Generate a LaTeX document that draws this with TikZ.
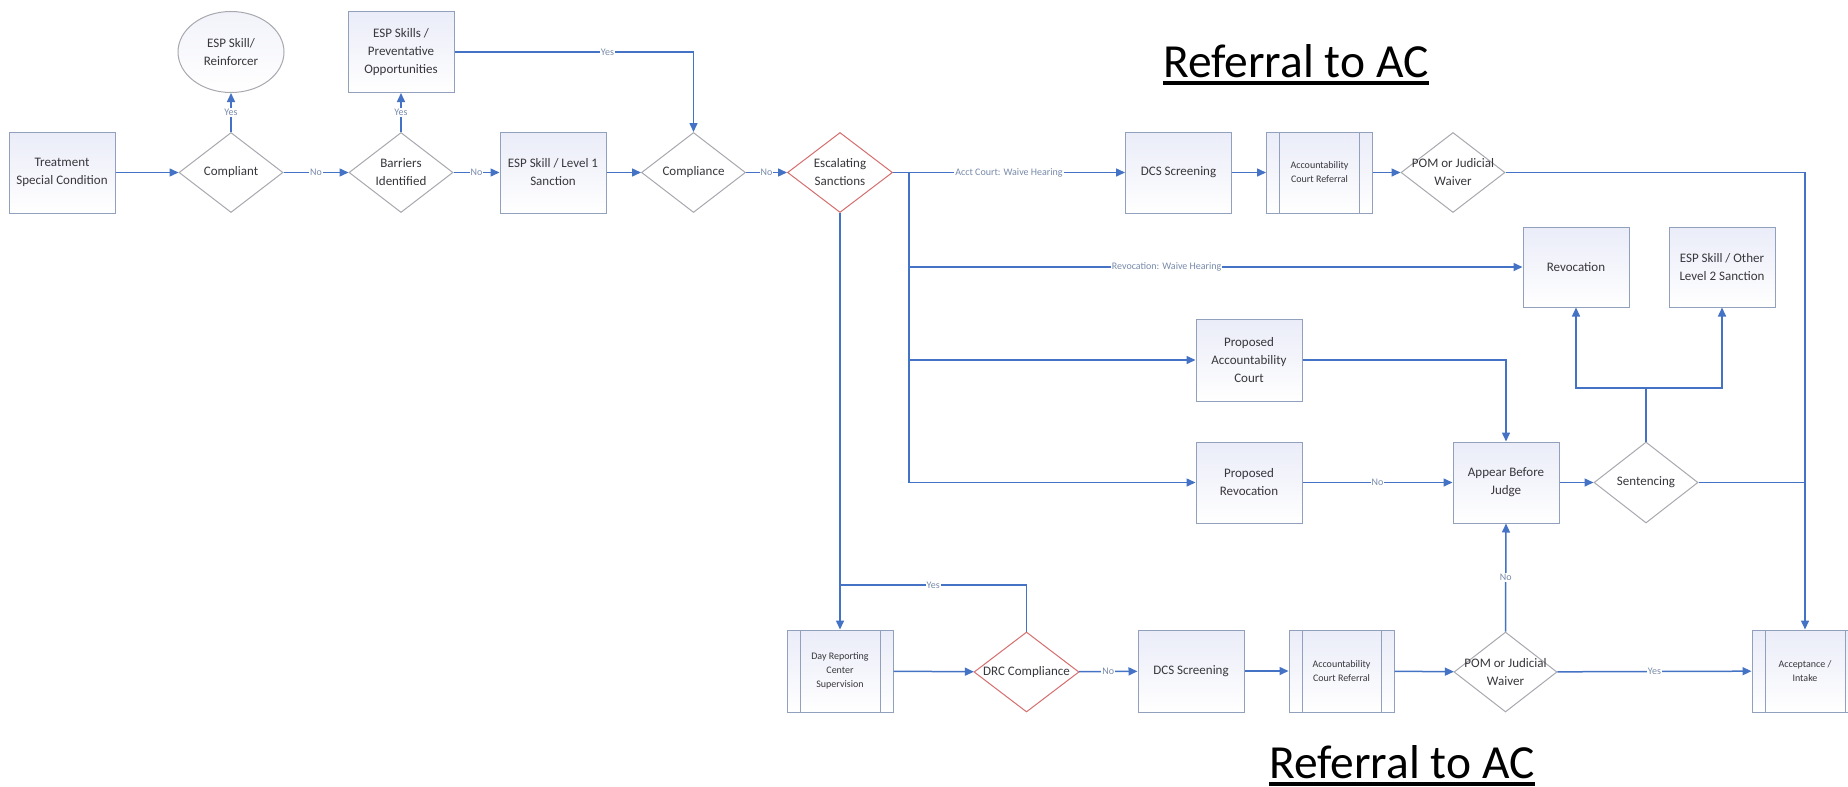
\documentclass[tikz,border=0pt]{standalone}
\usepackage{fontspec}
\setmainfont{Carlito}
\usetikzlibrary{shapes.geometric,arrows.meta}

\definecolor{flow}{RGB}{68,114,196}
\definecolor{boxline}{RGB}{145,160,188}
\definecolor{boxtop}{RGB}{234,236,248}
\definecolor{ovaltop}{RGB}{242,243,250}
\definecolor{dialine}{RGB}{168,168,175}
\definecolor{warnline}{RGB}{214,110,110}
\definecolor{lbltext}{RGB}{120,138,170}
\definecolor{bodytext}{RGB}{55,55,60}

\begin{document}
\begin{tikzpicture}[x=1pt,y=-1pt,
  every node/.style={font=\fontsize{13}{18}\selectfont, text=bodytext},
  box/.style={draw=boxline, line width=1pt, top color=boxtop, bottom color=white,
    minimum width=106pt, minimum height=81pt, inner sep=0pt, align=center},
  subproc/.style={box, path picture={
    \draw[boxline, line width=1pt]
      ([xshift=13pt]path picture bounding box.north west) -- ([xshift=13pt]path picture bounding box.south west)
      ([xshift=-13pt]path picture bounding box.north east) -- ([xshift=-13pt]path picture bounding box.south east);}},
  small/.style={font=\fontsize{10}{14}\selectfont},
  dia/.style={diamond, draw=dialine, line width=1pt, fill=white,
    minimum width=104pt, minimum height=80pt, inner sep=0pt},
  warn/.style={dia, draw=warnline},
  dtext/.style={label={[align=center]center:{#1}}},
  oval/.style={ellipse, draw=dialine, line width=1pt, top color=ovaltop, bottom color=white,
    minimum width=106pt, minimum height=81pt, inner sep=0pt, align=center},
  line/.style={draw=flow, line width=1.5pt},
  conn/.style={line, -{Triangle[length=9pt,width=8pt]}},
  lbl/.style={font=\fontsize{10}{12}\selectfont, text=lbltext, fill=white, inner sep=1pt},
  heading/.style={font=\fontsize{47.5}{50}\selectfont, text=black, inner sep=0pt, anchor=base west},
]
\useasboundingbox (0,0) rectangle (1848,787);
\clip (0,0) rectangle (1848,787);
\fill[white] (0,0) rectangle (1848,787);

% headings
\node[heading] (headtop) at (1163,77) {Referral to AC};
\draw[line width=3.3pt] ([yshift=-6pt]headtop.base west) -- ([yshift=-6pt]headtop.base east);
\node[heading] (headbot) at (1269,778) {Referral to AC};
\draw[line width=3.3pt] ([yshift=-6pt]headbot.base west) -- ([yshift=-6pt]headbot.base east);

% first row
\node[box] (treat) at (62,172.5) {Treatment\\Special Condition};
\node[dia, dtext={Compliant}] (compliant) at (231,172.5) {};
\node[oval] (reinf) at (231,52) {ESP Skill/\\Reinforcer};
\node[dia, dtext={Barriers\\Identified}] (barriers) at (401,172.5) {};
\node[box] (prevent) at (401,52) {ESP Skills /\\Preventative\\Opportunities};
\node[box] (esp1) at (553,172.5) {ESP Skill / Level 1\\Sanction};
\node[dia, dtext={Compliance}] (compliance) at (693.5,172.5) {};
\node[warn, minimum width=105pt, dtext={Escalating\\Sanctions}] (escal) at (840,172.5) {};
\node[box] (dcs1) at (1178.5,172.5) {DCS Screening};
\node[subproc, small] (acr1) at (1319.5,172.5) {Accountability\\Court Referral};
\node[dia, dtext={POM or Judicial\\Waiver}] (pom1) at (1453,172.5) {};

% court branch
\node[box, minimum height=80pt] (revoc) at (1576,267) {Revocation};
\node[box, minimum height=80pt] (esp2) at (1722,267) {ESP Skill / Other\\Level 2 Sanction};
\node[box, minimum height=82pt] (propac) at (1249,360) {Proposed\\Accountability\\Court};
\node[box] (proprev) at (1249,482.5) {Proposed\\Revocation};
\node[box] (appear) at (1506,482.5) {Appear Before\\Judge};
\node[dia, minimum height=81pt, dtext={Sentencing}] (sent) at (1646,482.5) {};

% day reporting row
\node[subproc, small, minimum height=82pt] (drcsup) at (840,671) {Day Reporting\\Center\\Supervision};
\node[warn, minimum width=105pt, dtext={DRC Compliance}] (drc) at (1026.5,672) {};
\node[box, minimum height=82pt] (dcs2) at (1191,671) {DCS Screening};
\node[subproc, small, minimum width=105pt, minimum height=82pt] (acr2) at (1341.5,671) {Accountability\\Court Referral};
\node[dia, minimum width=103pt, dtext={POM or Judicial\\Waiver}] (pom2) at (1505.5,672) {};
\node[subproc, small, minimum height=82pt] (accept) at (1805,671) {Acceptance /\\Intake};

% junction points
\coordinate (jn) at (909,172.5);
\coordinate (sj) at (1646,388);
\coordinate (yesj) at (840,585);

% first row connectors
\draw[conn] (treat) -- (compliant);
\draw[conn] (compliant.north) -- node[lbl]{Yes} (reinf.south);
\draw[conn] (compliant) -- node[lbl]{No} (barriers);
\draw[conn] (barriers.north) -- node[lbl]{Yes} (prevent.south);
\draw[conn] (barriers) -- node[lbl]{No} (esp1);
\draw[conn] (esp1) -- (compliance);
\draw[conn] (prevent.east) -| node[lbl, pos=0.32]{Yes} (compliance.north);
\draw[conn] (compliance) -- node[lbl]{No} (escal);
\draw[conn] (escal.east) -- node[lbl]{Acct Court: Waive Hearing} (dcs1.west);
\draw[conn] (dcs1) -- (acr1);
\draw[conn] (acr1) -- (pom1);
\draw[conn] (pom1.east) -| (accept.north);

% escalation branches
\draw[line] (jn) -- (jn |- proprev.west);
\draw[conn] (jn |- revoc.west) -- node[lbl, pos=0.42]{Revocation: Waive Hearing} (revoc.west);
\draw[conn] (jn |- propac.west) -- (propac.west);
\draw[conn] (jn |- proprev.west) -- (proprev.west);
\draw[conn] (propac.east) -| (appear.north);
\draw[conn] (proprev) -- node[lbl]{No} (appear);
\draw[conn] (appear) -- (sent);
\draw[line] (sent.north) -- (sj);
\draw[conn] (sj) -| (revoc.south);
\draw[conn] (sj) -| (esp2.south);
\draw[line] (sent.east) -- (accept.north |- sent.east);

% day reporting row connectors
\draw[conn] (escal.south) -- (drcsup.north);
\draw[line] (drc.north) |- node[lbl, pos=0.75]{Yes} (yesj);
\draw[conn] (drcsup) -- (drc);
\draw[conn] (drc) -- node[lbl]{No} (dcs2);
\draw[conn] (dcs2) -- (acr2);
\draw[conn] (acr2) -- (pom2);
\draw[conn] (pom2.north) -- node[lbl]{No} (appear.south);
\draw[conn] (pom2) -- node[lbl]{Yes} (accept);
\end{tikzpicture}
\end{document}
